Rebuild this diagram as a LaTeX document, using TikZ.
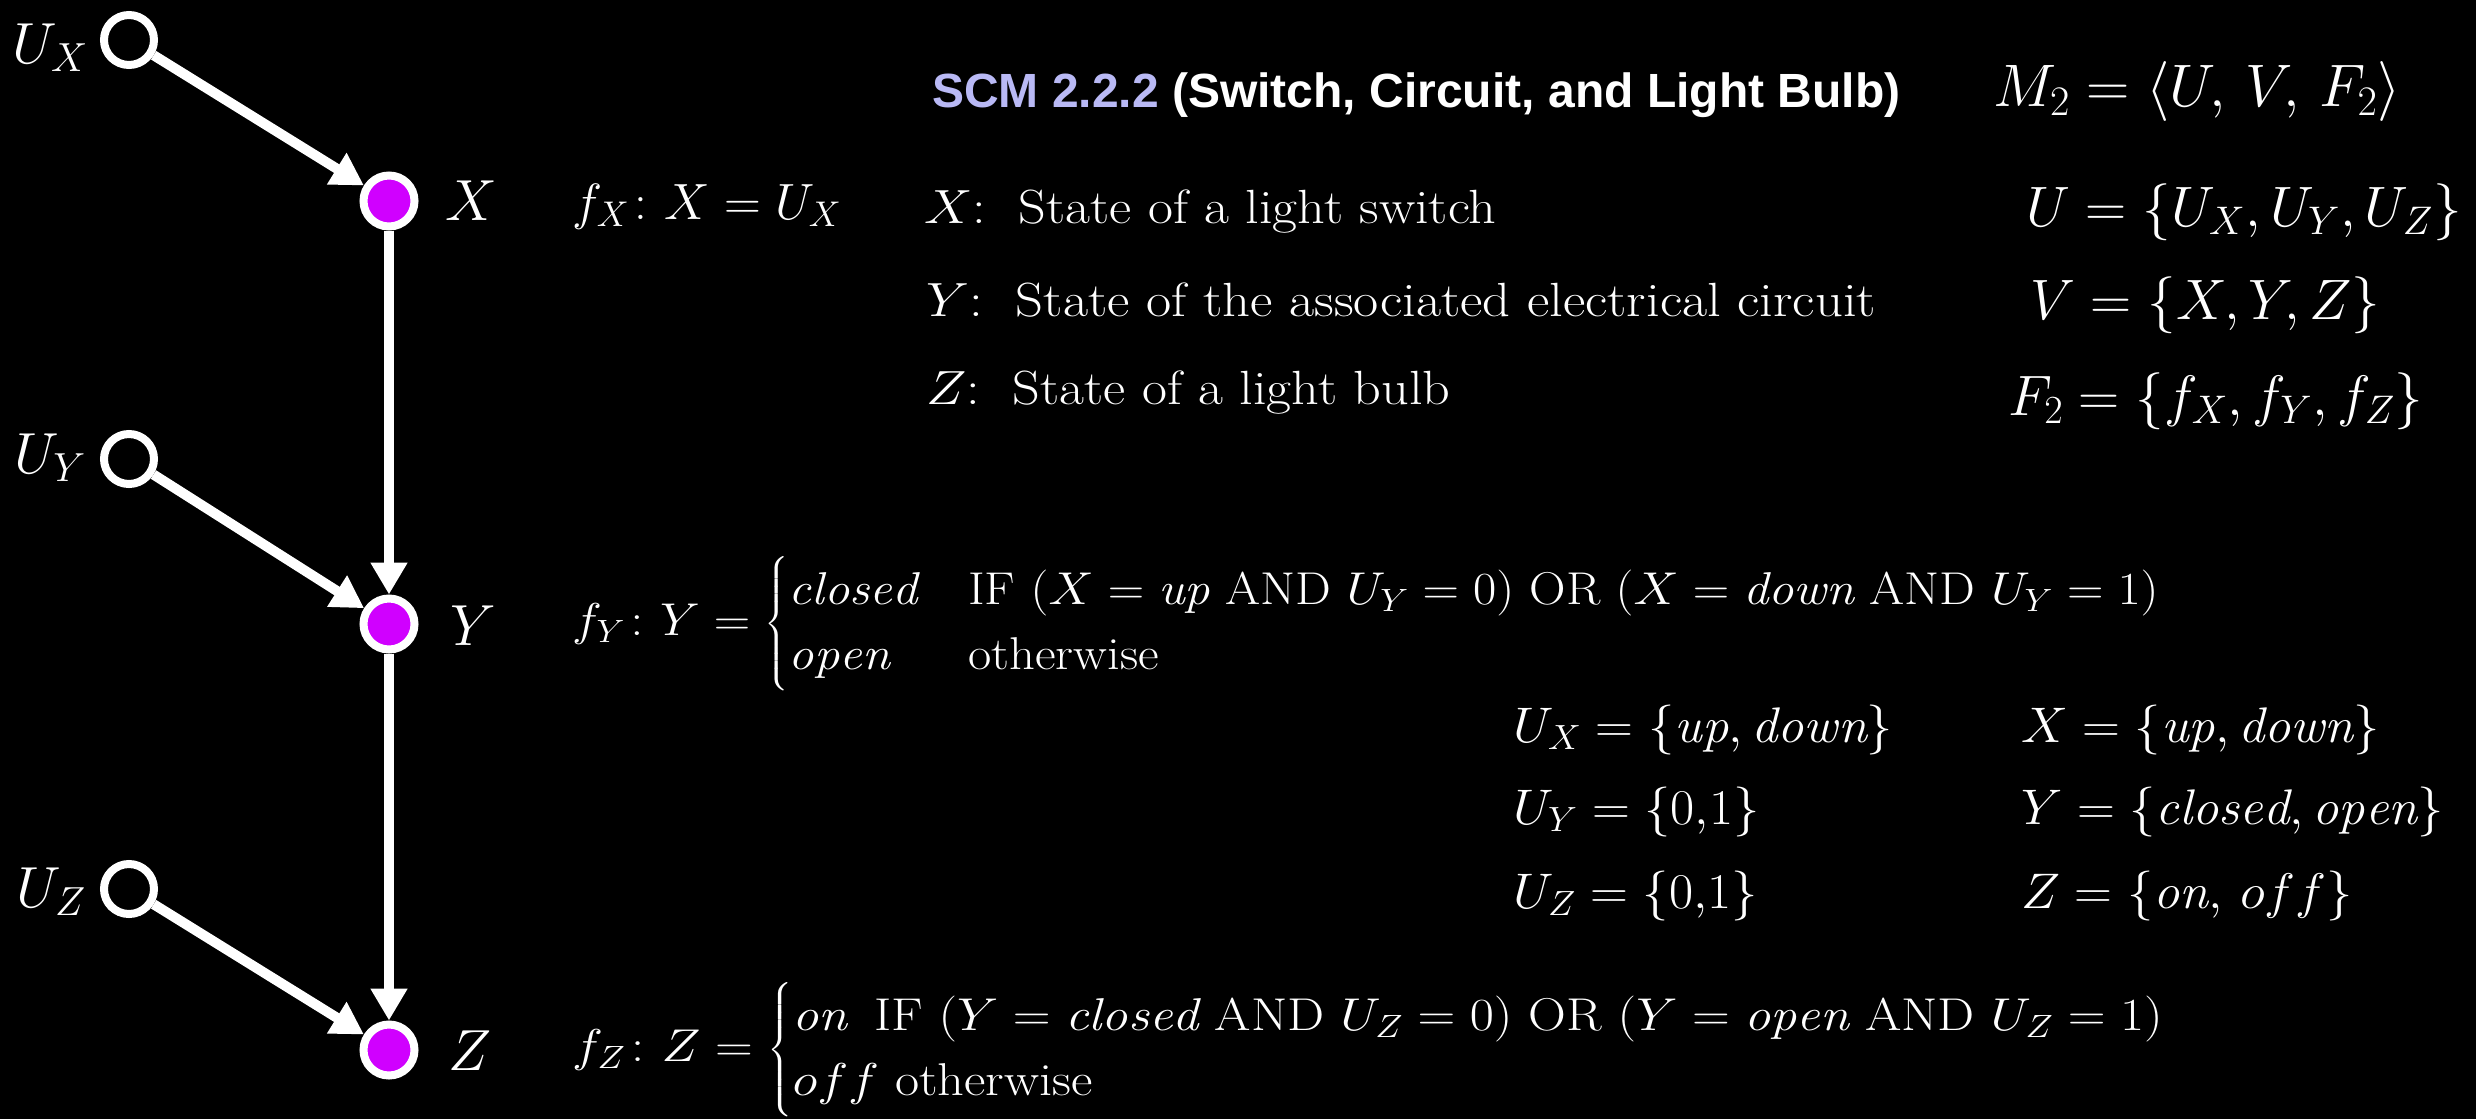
\RequirePackage{fix-cm}
\documentclass[tikz,border=0pt]{standalone}
\usepackage{amsmath}
\usepackage{fontspec}
\newfontfamily\titlefont{Liberation Sans}
\usetikzlibrary{arrows.meta}
\definecolor{vpurple}{RGB}{208,0,255}
\definecolor{lav}{RGB}{185,185,245}
\newcommand{\wide}[2]{\scalebox{#1}[1]{#2}}
\begin{document}
\begin{tikzpicture}[x=1pt,y=-1pt,
  unode/.style={circle, draw=white, line width=8pt, fill=black, minimum size=50pt, inner sep=0pt},
  vnode/.style={circle, draw=white, line width=8pt, fill=vpurple, minimum size=51pt, inner sep=0pt},
  edge/.style={draw=white, line width=10pt, -{Triangle[length=32pt,width=35pt]}},
  lbl/.style={text=white, inner sep=0pt, font=\fontsize{58}{66}\selectfont},
  eqn/.style={text=white, inner sep=0pt, anchor=base west, font=\fontsize{51}{62}\selectfont},
  desc/.style={text=white, inner sep=0pt, anchor=base west, font=\fontsize{48}{56}\selectfont},
  rcol/.style={text=white, inner sep=0pt, anchor=base west, font=\fontsize{57}{66}\selectfont},
  dom/.style={text=white, inner sep=0pt, anchor=base west, font=\fontsize{50}{58}\selectfont},
  cas/.style={text=white, inner sep=0pt, anchor=west, font=\fontsize{46}{54}\selectfont},
  ttl/.style={inner sep=0pt, anchor=base west, font=\titlefont\bfseries\fontsize{48}{56}\selectfont}]
\fill[black] (0,0) rectangle (2476,1119);
\useasboundingbox (0,0) rectangle (2476,1119);
% graph
\node[unode] (ux) at (129,40) {};
\node[vnode] (x) at (389,201) {};
\node[unode] (uy) at (129,459) {};
\node[vnode] (y) at (389,624) {};
\node[unode] (uz) at (129,889) {};
\node[vnode] (z) at (389,1050) {};
\draw[edge] (ux) -- (x);
\draw[edge] (uy) -- (y);
\draw[edge] (uz) -- (z);
\draw[edge] (x) -- (y);
\draw[edge] (y) -- (z);
\node[lbl, anchor=base east] (lux) at (88,63) {$U_X$};
\node[lbl, anchor=base east] (luy) at (86,473) {$U_Y$};
\node[lbl, anchor=base east] (luz) at (86,907) {$U_Z$};
\node[lbl, anchor=base west] (lx) at (445,220) {$X$};
\node[lbl, anchor=base west] (ly) at (450,645) {$Y$};
\node[lbl, anchor=base west] (lz) at (448,1070) {$Z$};
% title and model
\node[ttl] (title) at (932,107) {\textcolor{lav}{SCM 2.2.2} \textcolor{white}{(Switch, Circuit, and Light Bulb)}};
\node[rcol, font=\fontsize{60}{68}\selectfont] (m2) at (1993,106) {$M_2 = \langle U,\, V,\, F_2\rangle$};
\node[rcol] (uset) at (2026,226) {$U = \{U_X, U_Y, U_Z\}$};
\node[rcol] (vset) at (2030,319) {$V = \{X, Y, Z\}$};
\node[rcol] (fset) at (2008,415) {$F_2 = \{f_X, f_Y, f_Z\}$};
% descriptions
\node[desc] (dx) at (924,223) {\wide{1.13}{$X$:\ \ State of a light switch}};
\node[desc] (dy) at (926,316) {\wide{1.14}{$Y$:\ \ State of the associated electrical circuit}};
\node[desc] (dz) at (926,404) {\wide{1.13}{$Z$:\ \ State of a light bulb}};
% equations
\node[eqn] (fx) at (572,219) {$f_X\colon X = U_X$};
\node[cas] (fy) at (572,624) {\wide{1.1}{$f_Y\colon Y = \begin{cases} \mathit{closed} & \text{IF } (X = \mathit{up} \text{ AND } U_Y = 0) \text{ OR } (X = \mathit{down} \text{ AND } U_Y = 1)\\ \mathit{open} & \text{otherwise}\end{cases}$}};
\node[cas] (fz) at (572,1050) {\wide{1.14}{$f_Z\colon Z = \begin{cases} \mathit{on}\enspace \text{IF } (Y = \mathit{closed} \text{ AND } U_Z = 0) \text{ OR } (Y = \mathit{open} \text{ AND } U_Z = 1)\\ off\ \text{otherwise}\end{cases}$}};
% domains
\node[dom] (dux) at (1513,742) {\wide{1.05}{$U_X = \{\mathit{up}, \mathit{down}\}$}};
\node[dom] (duy) at (1513,824) {\wide{1.05}{$U_Y = \{0{,}1\}$}};
\node[dom] (duz) at (1513,908) {\wide{1.05}{$U_Z = \{0{,}1\}$}};
\node[dom] (dxx) at (2021,742) {\wide{1.05}{$X = \{\mathit{up}, \mathit{down}\}$}};
\node[dom] (dyy) at (2021,824) {\wide{1.05}{$Y = \{\mathit{closed}, \mathit{open}\}$}};
\node[dom] (dzz) at (2021,908) {\wide{1.05}{$Z = \{\mathit{on},\, off\}$}};
\end{tikzpicture}
\end{document}
